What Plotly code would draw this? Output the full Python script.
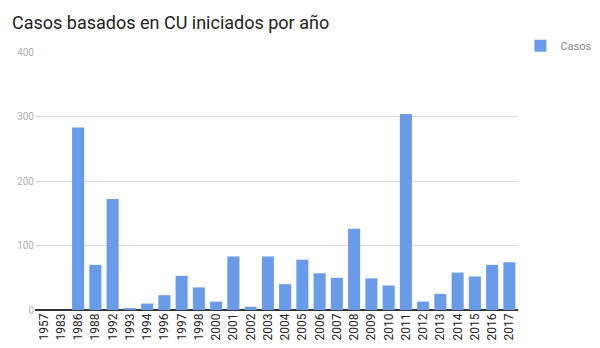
import plotly.graph_objects as go

years = ["1957", "1983", "1986", "1988", "1992", "1993", "1994", "1996", "1997", "1998",
         "2000", "2001", "2002", "2003", "2004", "2005", "2006", "2007", "2008", "2009",
         "2010", "2011", "2012", "2013", "2014", "2015", "2016", "2017"]
casos = [0, 0, 283, 70, 172, 2, 10, 23, 53, 35,
         13, 83, 5, 83, 40, 78, 57, 50, 126, 49,
         38, 304, 13, 25, 58, 52, 70, 74]
y_ticks = [0, 100, 200, 300, 400]

fig = go.Figure()
fig.add_trace(go.Bar(
    x=years, y=casos, name="Casos",
    marker=dict(color="#6a9be8", line=dict(width=0)),
    showlegend=True,
))

fig.update_layout(
    width=600, height=348,
    margin=dict(l=35, r=82, t=52, b=38, autoexpand=False),
    paper_bgcolor="white", plot_bgcolor="white",
    bargap=0.3,
    title=dict(text="Casos basados en CU iniciados por año", x=0.02, xanchor="left",
               y=0.935, yanchor="middle",
               font=dict(family="Roboto", size=18, color="#222222")),
    font=dict(family="Roboto"),
    showlegend=True,
    legend=dict(x=1.005, y=1.08, xanchor="left", yanchor="top",
                font=dict(family="Roboto", size=11, color="#888888"),
                itemwidth=30, bgcolor="rgba(0,0,0,0)"),
    xaxis=dict(type="category", tickangle=-90, showgrid=False, zeroline=False,
               showline=False, ticks="", automargin=False,
               tickfont=dict(family="Roboto", size=12, color="#222222")),
    yaxis=dict(range=[0, 400], tickvals=y_ticks, showgrid=True, gridcolor="#d9d9d9",
               gridwidth=1, zeroline=True, zerolinecolor="#333333", zerolinewidth=1.5,
               showline=False, ticks="", automargin=False,
               tickfont=dict(family="Roboto", size=10, color="#b0b0b0")),
)

fig.write_html("out.html")
